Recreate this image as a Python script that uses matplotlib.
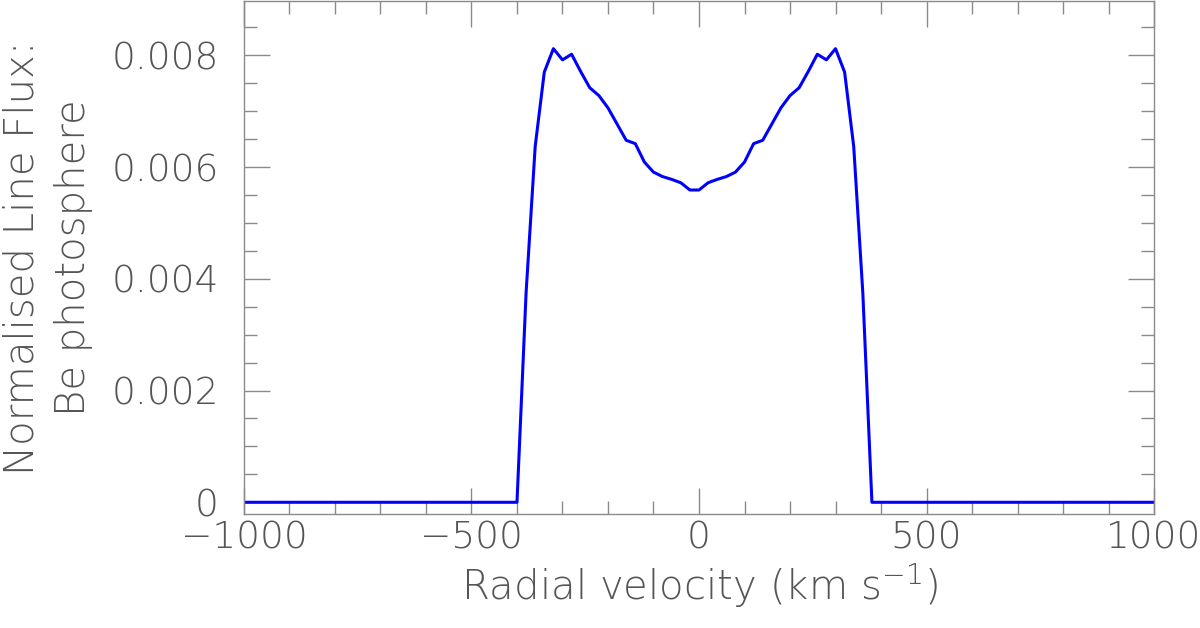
import matplotlib as mpl
mpl.use('Agg')
import matplotlib.pyplot as plt
from matplotlib.ticker import MultipleLocator

# line profile (km/s, normalised flux)
velocity = [-1000, -400, -380, -360, -340, -320, -300, -280, -260, -240,
            -220, -200, -180, -160, -140, -120, -100, -80, -60, -40,
            -20, 0, 20, 40, 60, 80, 100, 120, 140, 160,
            180, 200, 220, 240, 260, 280, 300, 320, 340, 360,
            380, 1000]
flux = [0.0, 0.0, 0.00375, 0.00637, 0.00770, 0.00812, 0.00792, 0.00802, 0.00771, 0.00742,
        0.00728, 0.00706, 0.00677, 0.00648, 0.00642, 0.00609, 0.00591, 0.00583, 0.00578, 0.00572,
        0.00559, 0.00559, 0.00572, 0.00578, 0.00583, 0.00591, 0.00609, 0.00642, 0.00648, 0.00677,
        0.00706, 0.00728, 0.00742, 0.00771, 0.00802, 0.00792, 0.00812, 0.00770, 0.00637, 0.00375,
        0.0, 0.0]

xticks = [-1000, -500, 0, 500, 1000]
yticks = [0, 0.002, 0.004, 0.006, 0.008]
ytick_labels = ['0', '0.002', '0.004', '0.006', '0.008']

mpl.rcParams['font.family'] = 'DejaVu Sans'
mpl.rcParams['font.weight'] = 'light'

text_col = '#555555'
axis_col = '#8a8a8a'
tick_fs = 27
label_fs = 29

fig = plt.figure(figsize=(12, 6.28), dpi=100)
ax = fig.add_axes([0.2033, 0.1815, 0.7584, 0.8175])

ax.plot(velocity, flux, color='#0000ff', lw=2.2)

ax.set_xlim(-1000, 1000)
ax.set_ylim(-0.00021, 0.00898)

ax.set_xticks(xticks)
ax.set_yticks(yticks)
ax.set_yticklabels(ytick_labels)
ax.xaxis.set_minor_locator(MultipleLocator(100))
ax.yaxis.set_minor_locator(MultipleLocator(0.0005))

for s in ax.spines.values():
    s.set_color(axis_col)
    s.set_linewidth(1.0)

ax.tick_params(which='both', direction='in', top=True, right=True,
               color=axis_col, width=1.0, labelcolor=text_col, labelsize=tick_fs)
ax.tick_params(which='major', length=18.5)
ax.tick_params(which='minor', length=9.5)
ax.tick_params(axis='x', which='major', pad=5)
ax.tick_params(axis='y', which='major', pad=18)

ax.set_xlabel('Radial velocity (km s$^{-1}$)', fontsize=label_fs, color=text_col,
              fontweight='light', labelpad=4)
ax.set_ylabel('Normalised Line Flux:\nBe photosphere', fontsize=label_fs, color=text_col,
              fontweight='light', linespacing=1.4)
ax.yaxis.set_label_coords(-0.166, 0.5)

fig.savefig('out.png', dpi=100)
